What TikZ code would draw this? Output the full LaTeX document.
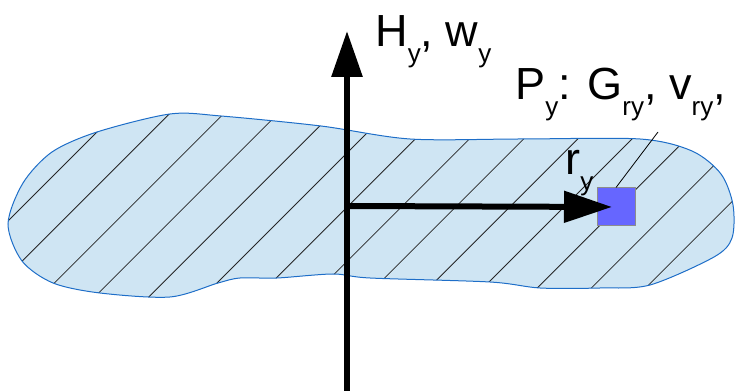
\documentclass[tikz,border=0pt]{standalone}
\usepackage{fontspec}
\setmainfont{Liberation Sans}
\usetikzlibrary{arrows.meta}

\definecolor{blobfill}{RGB}{207,229,243}
\definecolor{blobline}{RGB}{30,110,200}
\definecolor{pointfill}{RGB}{102,102,255}
\newcommand{\lowidx}[1]{\raisebox{-12pt}{\fontsize{19.5}{20}\selectfont #1}}

\begin{document}
\begin{tikzpicture}[
        x=0.75pt, y=-0.75pt,
        textlabel/.style={anchor=base west, inner sep=0pt,
                          font=\fontsize{33.75}{36}\selectfont},
        hatch/.style={draw=black!85, line width=0.6pt},
        axisarrow/.style={line width=4.5pt,
                          -{Triangle[length=34.5pt, width=22.5pt]}},
        rarrow/.style={line width=4.5pt,
                       -{Triangle[length=36pt, width=23pt]}},
        pointbox/.style={rectangle, fill=pointfill, draw=black!45,
                         line width=0.75pt, minimum size=28.5pt, inner sep=0pt},
        leader/.style={draw=black, line width=0.6pt},
    ]
    \useasboundingbox (0,0) rectangle (735,391);

    % Body outline
    \path[save path=\blobpath] plot[smooth cycle, tension=0.5] coordinates {
        (8,224) (23,183) (52,152) (97,132) (170,114) (221,116) (321,126)
        (410,139) (520,139) (640,139) (692,151) (721,174) (733,205)
        (732,238) (714,257) (650,285) (600,288) (540,288)
        (490,282) (370,278) (333,274) (277,278) (240,278) (218,283)
        (170,297) (100,293) (53,283) (22,261)};
    \fill[blobfill, use path=\blobpath];

    % Hatching
    \begin{scope}
        \clip[use path=\blobpath];
        \foreach \k in {0,...,16} {
            \pgfmathsetmacro{\c}{174.8+54.2*\k}
            \draw[hatch] ({\c-100},100) -- ({\c-320},320);
        }
    \end{scope}
    \draw[blobline, line width=0.75pt, use path=\blobpath];

    % Axis and point
    \coordinate (axisbot) at (347,391);
    \coordinate (axistop) at (347,31);
    \coordinate (origin)  at (347,206);
    \coordinate (ptlead)  at (658,132);
    \node[pointbox] (pt) at (616,207) {};

    \draw[axisarrow] (axisbot) -- (axistop);
    \draw[rarrow, shorten >=3pt] (origin) -- (pt.center);
    \draw[leader] (pt.north) -- (ptlead);

    % Labels
    \node[textlabel] (hlabel) at (375,47)  {H\lowidx{y}, w\lowidx{y}};
    \node[textlabel] (plabel) at (515,100) {P\lowidx{y}: G\lowidx{ry}, v\lowidx{ry},};
    \node[textlabel] (rlabel) at (565,175) {r\lowidx{y}};
\end{tikzpicture}
\end{document}
